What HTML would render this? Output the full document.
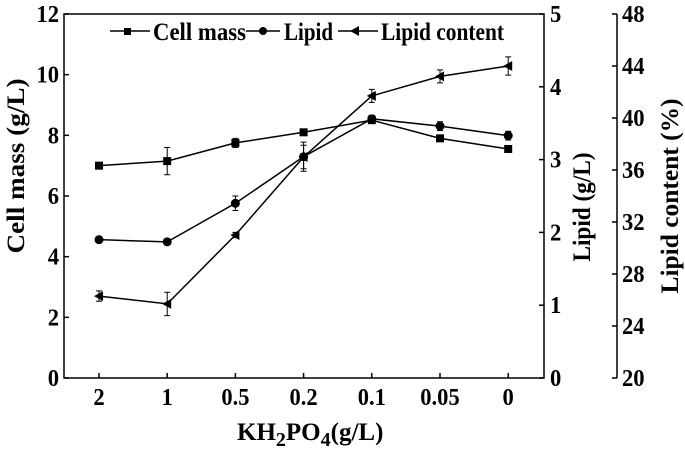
<!DOCTYPE html>
<html><head><meta charset="utf-8"><style>
html,body{margin:0;padding:0;background:#fff}
svg text{font-family:"Liberation Serif",serif;font-weight:bold;fill:#000}
</style></head><body>
<svg id="chart" width="685" height="455" xmlns="http://www.w3.org/2000/svg">
<g id="axes"></g><g id="marks"></g>
<g>
 <line x1="110" y1="31" x2="150" y2="31" stroke="#000" stroke-width="1.5"/><rect x="124" y="28" width="7" height="7" fill="#000"/>
 <text x="153" y="40" font-size="25" textLength="93" lengthAdjust="spacingAndGlyphs">Cell mass</text>
 <line x1="246" y1="31" x2="280" y2="31" stroke="#000" stroke-width="1.5"/><circle cx="263" cy="31" r="4" fill="#000"/>
 <text x="284" y="40" font-size="25" textLength="49" lengthAdjust="spacingAndGlyphs">Lipid</text>
 <line x1="338" y1="31" x2="378" y2="31" stroke="#000" stroke-width="1.5"/><polygon points="350,31 359,26 359,36" fill="#000"/>
 <text x="381" y="40" font-size="25" textLength="123" lengthAdjust="spacingAndGlyphs">Lipid content</text>
</g>
<text x="0" y="0" font-size="25" textLength="175" lengthAdjust="spacingAndGlyphs" transform="translate(24,166) rotate(-90)" text-anchor="middle">Cell mass (g/L)</text>
<text x="0" y="0" font-size="25" textLength="109" lengthAdjust="spacingAndGlyphs" transform="translate(590,207) rotate(-90)" text-anchor="middle">Lipid (g/L)</text>
<text x="0" y="0" font-size="25" textLength="195" lengthAdjust="spacingAndGlyphs" transform="translate(678,196) rotate(-90)" text-anchor="middle">Lipid content (%)</text>
<text x="237" y="440" font-size="25">KH<tspan font-size="20" dy="6">2</tspan><tspan dy="-6">PO</tspan><tspan font-size="20" dy="6">4</tspan><tspan dy="-6">(g/L)</tspan></text>
</svg>
<script>
const categories=["2","1","0.5","0.2","0.1","0.05","0"];
const cellMass=[7.0,7.15,7.75,8.1,8.5,7.9,7.55];
const cellMassErr=[0.1,0.45,0.15,0.1,0.1,0.1,0.08];
const lipid=[1.9,1.87,2.4,3.04,3.56,3.46,3.33];
const lipidErr=[0.03,0.04,0.1,0.2,0.05,0.06,0.06];
const lipidContent=[26.3,25.7,31.0,37.0,41.7,43.2,44.0];
const contentErr=[0.4,0.9,0.2,0.9,0.5,0.5,0.7];
const leftTicks=[0,2,4,6,8,10,12];
const lipidTicks=[0,1,2,3,4,5];
const contentTicks=[20,24,28,32,36,40,44,48];
const X0=64,X1=544,Y0=378,Y1=14,AX3=617;
const ns="http://www.w3.org/2000/svg";
const xs=i=>99+i*68.2;
const yL=v=>Y0-(v/12)*(Y0-Y1);
const yR=v=>Y0-(v/5)*(Y0-Y1);
const yC=v=>Y0-((v-20)/28)*(Y0-Y1);
function mk(parent,tag,attrs,txt){const e=document.createElementNS(ns,tag);for(const k in attrs)e.setAttribute(k,attrs[k]);if(txt!==undefined)e.textContent=txt;document.getElementById(parent).appendChild(e);return e;}
function lbl(x,y,s,anchor){let w=0;for(const ch of s)w+=(ch==="."?5.5:11.3);const a={x:x,y:y,"font-size":24,"text-anchor":anchor,textLength:w,lengthAdjust:"spacingAndGlyphs"};return mk("axes","text",a,s);}
let e;
e=mk("axes","rect",{x:X0,y:Y1,width:X1-X0,height:Y0-Y1,fill:"none",stroke:"#000","stroke-width":1.5});


e=mk("axes","line",{x1:AX3,y1:Y1,x2:AX3,y2:Y0,stroke:"#000","stroke-width":1.5});


leftTicks.forEach(v=>{const y=yL(v);
 mk("axes","line",{x1:X0,y1:y,x2:X0+5,y2:y,stroke:"#000","stroke-width":1.5});
 e=lbl(X0-5,y+8,String(v),"end");
 
 });
lipidTicks.forEach(v=>{const y=yR(v);
 mk("axes","line",{x1:X1-5,y1:y,x2:X1,y2:y,stroke:"#000","stroke-width":1.5});
 e=lbl(X1+6,y+8,String(v),"start");
 
 });
contentTicks.forEach(v=>{const y=yC(v);
 mk("axes","line",{x1:AX3-5,y1:y,x2:AX3,y2:y,stroke:"#000","stroke-width":1.5});
 e=lbl(AX3+5,y+8,String(v),"start");
 
 });
categories.forEach((c,i)=>{const x=xs(i);
 mk("axes","line",{x1:x,y1:Y0,x2:x,y2:Y0-5,stroke:"#000","stroke-width":1.5});
 e=lbl(x,Y0+27,c,"middle");
 
 });
function series(vals,errs,yf,shape,name){
 const pts=vals.map((v,i)=>xs(i)+","+yf(v)).join(" ");
 e=mk("marks","polyline",{points:pts,fill:"none",stroke:"#000","stroke-width":1.5});
 
 
 vals.forEach((v,i)=>{const x=xs(i),y=yf(v),ya=yf(v+errs[i]),yb=yf(v-errs[i]);
  mk("marks","path",{d:`M${x},${ya}V${yb}M${x-3},${ya}h6M${x-3},${yb}h6`,stroke:"#000","stroke-width":1,fill:"none"});
  if(shape==="sq")e=mk("marks","rect",{x:x-4,y:y-4,width:8,height:8,fill:"#000"});
  else if(shape==="ci")e=mk("marks","circle",{cx:x,cy:y,r:4.5,fill:"#000"});
  else e=mk("marks","polygon",{points:`${x-5},${y} ${x+4},${y-5} ${x+4},${y+5}`,fill:"#000"});
  
  });
}
series(cellMass,cellMassErr,yL,"sq","cell-mass");
series(lipid,lipidErr,yR,"ci","lipid");
series(lipidContent,contentErr,yC,"tri","lipid-content");
</script>
</body></html>
